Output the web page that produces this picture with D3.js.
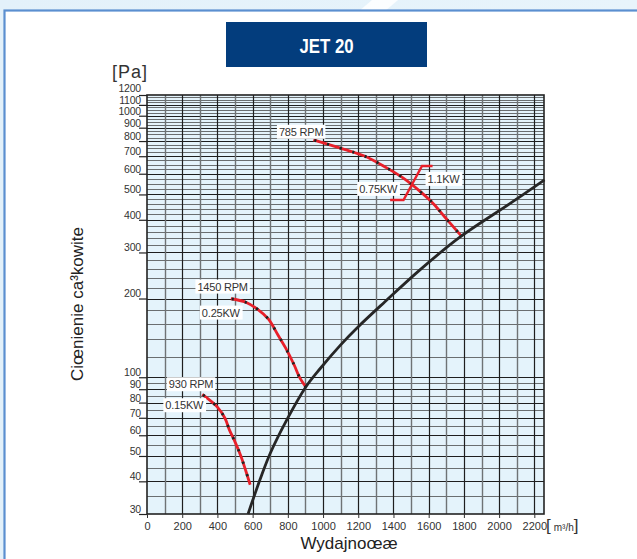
<!DOCTYPE html>
<html>
<head>
<meta charset="utf-8">
<script src="https://cdn.jsdelivr.net/npm/d3@7"></script>
<style>
  html, body { margin: 0; padding: 0; background: #ffffff; }
  svg { display: block; }
  text { font-family: "Liberation Sans", Arial, sans-serif; }
</style>
</head>
<body>
<svg id="chart" width="637" height="559"></svg>
<script>
// ---- chart data ----
const chartTitle = "JET 20";
const xTickValues = [0, 200, 400, 600, 800, 1000, 1200, 1400, 1600, 1800, 2000, 2200];
const yTickValues = [30, 40, 50, 60, 70, 80, 90, 100, 200, 300, 400, 500, 600, 700, 800, 900, 1000, 1100, 1200];

// system (duct) characteristic
const systemFlow     = [574, 604, 650, 699, 794, 902, 984, 1100, 1200, 1350, 1552, 1779, 2063, 2258];
const systemPressure = [30, 34.4, 42, 51, 68.7, 91.8, 108, 133, 156, 194, 258, 344, 462, 568];

// fan characteristics
const fan930Flow      = [314, 400, 443, 468, 500, 533, 561, 586];
const fan930Pressure  = [86, 76.9, 69.7, 62.9, 56.6, 50.0, 43.9, 38.8];
const fan1450Flow     = [476, 561, 627, 690, 743, 788, 836, 866, 902];
const fan1450Pressure = [199.6, 193.6, 182.2, 166.8, 145.4, 129.2, 111.4, 100.1, 91.8];
const fan785Flow      = [945, 1116, 1235, 1359, 1448, 1546, 1628, 1694, 1785];
const fan785Pressure  = [808, 745, 701, 633, 582, 517, 460, 408, 347];

const fanSpeeds = ["930 RPM", "1450 RPM", "785 RPM"];
const fanPowers = ["0.15KW", "0.25KW"];

// power switch-over mark on the 785 RPM curve
const powerMarkFlow     = [1381, 1457, 1562, 1622];
const powerMarkPressure = [476, 476, 642, 642];
const powerMarkLabels   = ["0.75KW", "1.1KW"];

// ---- drawing ----
const svg = d3.select("#chart");
const W = 637, H = 559;

// page background band and framed panel
const defs = svg.append("defs");
const bg = defs.append("linearGradient").attr("id", "bandGrad").attr("x1", 0).attr("x2", 1);
bg.append("stop").attr("offset", 0).attr("stop-color", "#e3f1fa");
bg.append("stop").attr("offset", 1).attr("stop-color", "#e8f4fb");
svg.append("rect").attr("x", 0).attr("y", 0).attr("width", W).attr("height", H).attr("fill", "url(#bandGrad)");
svg.append("polygon")
  .attr("points", "372,0 398,0 384,12 358,12")
  .attr("fill", "#ffffff").attr("opacity", 0.85);
svg.append("rect")
  .attr("x", 4.5).attr("y", 10.5).attr("width", W + 10).attr("height", H)
  .attr("fill", "#ffffff").attr("stroke", "#5b8fd0").attr("stroke-width", 2.2);

// title box
svg.append("rect").attr("x", 226).attr("y", 22).attr("width", 201).attr("height", 45).attr("fill", "#033d7d");
svg.append("text")
  .attr("transform", "translate(326.5,52.5) scale(0.8,1)")
  .attr("text-anchor", "middle")
  .attr("fill", "#ffffff")
  .style("font-family", "'Liberation Sans', Arial, sans-serif")
  .style("font-weight", "bold")
  .style("font-size", "21px")
  .text(chartTitle);

// scales
const x = d3.scaleLinear().domain([0, 2255]).range([147, 544]);
const y = d3.scaleLog().domain([30, 1200]).range([514, 95]);

const plot = svg.append("g");
plot.append("rect")
  .attr("x", x(0)).attr("y", y(1200))
  .attr("width", x(2255) - x(0)).attr("height", y(30) - y(1200))
  .attr("fill", "#e4f3fb");

// horizontal grid (log paper)
const hGrid = [].concat(
  d3.range(35, 100, 5),
  d3.range(100, 200, 20),
  d3.range(200, 500, 20),
  d3.range(500, 1200, 25)
);
plot.append("g").selectAll("line").data(hGrid).join("line")
  .attr("x1", x(0)).attr("x2", x(2255))
  .attr("y1", d => Math.round(y(d)) + 0.5).attr("y2", d => Math.round(y(d)) + 0.5)
  .attr("stroke", d => yTickValues.includes(d) ? "#1e1e1e" : "#6a6e70")
  .attr("stroke-width", d => yTickValues.includes(d) ? 1.2 : 1);

// vertical grid
const vGrid = d3.range(100, 2300, 100);
plot.append("g").selectAll("line").data(vGrid).join("line")
  .attr("y1", y(1200)).attr("y2", y(30))
  .attr("x1", d => Math.round(x(d)) + 0.5).attr("x2", d => Math.round(x(d)) + 0.5)
  .attr("stroke", d => d % 200 === 0 ? "#1e1e1e" : "#6f7375")
  .attr("stroke-width", d => d % 200 === 0 ? 1.2 : 1.4);

// plot frame
plot.append("rect")
  .attr("x", x(0)).attr("y", y(1200))
  .attr("width", x(2255) - x(0)).attr("height", y(30) - y(1200))
  .attr("fill", "none").attr("stroke", "#222").attr("stroke-width", 1.6);

// x axis
const xAxis = d3.axisBottom(x).tickValues(xTickValues).tickSize(4).tickPadding(4).tickFormat(d3.format("d"));
const gx = svg.append("g").attr("transform", `translate(0,${y(30)})`).call(xAxis);
gx.select(".domain").remove();
gx.selectAll(".tick line").attr("stroke", "#333");
gx.selectAll(".tick text")
  .attr("fill", "#333").style("font-size", "11px")
  .style("font-family", "'Liberation Sans', Arial, sans-serif");

// y axis
const yAxis = d3.axisLeft(y).tickValues(yTickValues).tickSize(8).tickPadding(0).tickFormat(d3.format("d"));
const gy = svg.append("g").attr("transform", `translate(${x(0)},0)`).call(yAxis);
gy.select(".domain").remove();
gy.selectAll(".tick line").attr("stroke", "#222").attr("stroke-width", 1.2);
gy.selectAll(".tick text")
  .attr("fill", "#333").attr("x", -6)
  .attr("dy", d => d === 1200 ? "-0.35em" : "-0.15em")
  .style("font-size", "10.5px")
  .style("letter-spacing", "-0.2px")
  .style("font-family", "'Liberation Sans', Arial, sans-serif");

// unit labels and axis titles
svg.append("text").attr("x", 112).attr("y", 77.5)
  .attr("fill", "#333").style("font-size", "18px").style("letter-spacing", "1px")
  .text("[Pa]");
const unit = svg.append("text").attr("x", 546).attr("y", 531).attr("fill", "#333");
unit.append("tspan").style("font-size", "17px").text("[");
unit.append("tspan").style("font-size", "10px").attr("dx", 3).text("m³/h");
unit.append("tspan").style("font-size", "17px").text("]");

svg.append("text")
  .attr("x", 349).attr("y", 549)
  .attr("text-anchor", "middle").attr("fill", "#222")
  .style("font-size", "17px")
  .text("Wydajnoœæ");
svg.append("text")
  .attr("transform", "translate(83,304) rotate(-90)")
  .attr("text-anchor", "middle").attr("fill", "#222")
  .style("font-size", "17px")
  .text("Ciœnienie ca³kowite");

// curves
const line = d3.line().x(d => x(d[0])).y(d => y(d[1])).curve(d3.curveCatmullRom.alpha(0.5));
const zip = (a, b) => a.map((v, i) => [v, b[i]]);

const systemPts = zip(systemFlow, systemPressure);
const fanCurves = [
  zip(fan930Flow, fan930Pressure),
  zip(fan1450Flow, fan1450Pressure),
  zip(fan785Flow, fan785Pressure)
];

const curves = svg.append("g");
fanCurves.forEach(pts => {
  curves.append("path").attr("d", line(pts))
    .attr("fill", "none").attr("stroke", "#e8202a").attr("stroke-width", 2.8);
  curves.append("path").attr("d", line(pts))
    .attr("fill", "none").attr("stroke", "#222").attr("stroke-width", 2.8)
    .attr("stroke-dasharray", "2.2 11").attr("stroke-dashoffset", -1);
});

// power switch-over mark
curves.append("path")
  .attr("d", d3.line().x(d => x(d[0])).y(d => y(d[1]))(zip(powerMarkFlow, powerMarkPressure)))
  .attr("fill", "none").attr("stroke", "#e8202a").attr("stroke-width", 2.4);

curves.append("path").attr("d", line(systemPts))
  .attr("fill", "none").attr("stroke", "#262626").attr("stroke-width", 2.8);

// boxed annotation labels
function boxLabel(px, py, txt) {
  const g = svg.append("g");
  const t = g.append("text")
    .attr("x", px).attr("y", py).attr("dy", "0.35em")
    .attr("text-anchor", "end").attr("fill", "#333")
    .style("font-size", "11px").style("letter-spacing", "-0.2px")
    .text(txt);
  const b = t.node().getBBox();
  g.insert("rect", "text")
    .attr("x", b.x - 2).attr("y", b.y - 1)
    .attr("width", b.width + 4).attr("height", b.height + 2)
    .attr("fill", "#ffffff");
}

// speed and power labels, anchored at the start of each fan curve
const speedOffsets = [[11, -10], [17, -12], [10, -8]];
const powerOffsets = [[1, 11], [9, 14]];
fanCurves.forEach((pts, i) => {
  const sx = x(pts[0][0]), sy = y(pts[0][1]);
  boxLabel(sx + speedOffsets[i][0], sy + speedOffsets[i][1], fanSpeeds[i]);
  if (i < fanPowers.length) {
    boxLabel(sx + powerOffsets[i][0], sy + powerOffsets[i][1], fanPowers[i]);
  }
});
boxLabel(x(powerMarkFlow[0]) + 7, y(powerMarkPressure[0]) - 11, powerMarkLabels[0]);
boxLabel(x(powerMarkFlow[3]) + 27, y(powerMarkPressure[3]) + 13, powerMarkLabels[1]);
</script>
</body>
</html>
